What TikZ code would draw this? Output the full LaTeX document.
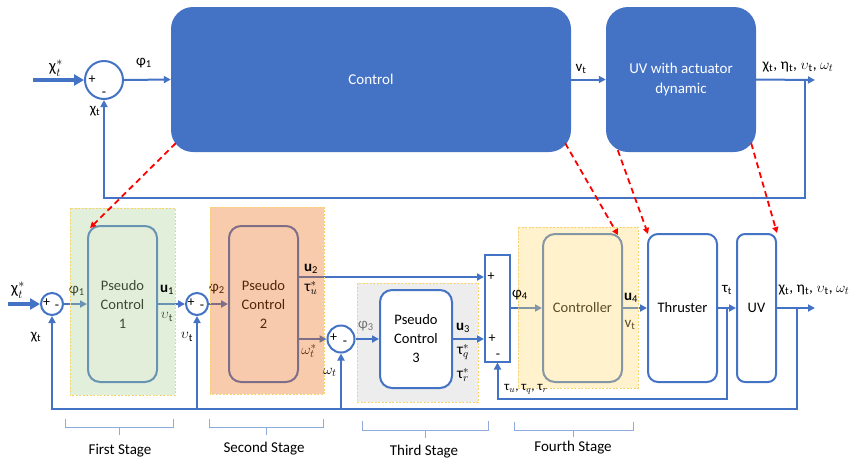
\documentclass[tikz,border=0pt]{standalone}
\usepackage{fontspec}
\setmainfont{Carlito}
\usetikzlibrary{arrows.meta,calc}
\definecolor{uvblue}{HTML}{4472C4}
\definecolor{greenwash}{RGB}{172,209,149}
\definecolor{orangewash}{RGB}{235,106,21}
\definecolor{yellowwash}{RGB}{255,218,109}
\definecolor{stagegray}{HTML}{EDEDED}
\definecolor{stageedge}{HTML}{F5D36E}
\definecolor{bracecol}{HTML}{8FAADC}
\newcommand\sbs[1]{\textsubscript{#1}}
\begin{document}
\begin{tikzpicture}[x=1pt,y=-1pt,
  wire/.style={draw=uvblue, line width=2pt},
  arr/.style={wire, -{Triangle[length=7pt,width=7pt]}},
  bigarr/.style={draw=uvblue, line width=3.6pt, -{Triangle[length=10pt,width=11pt]}},
  topblock/.style={rectangle, rounded corners=22pt, fill=uvblue, text=white,
    font=\fontsize{15}{20}\selectfont, align=center, inner sep=0pt},
  block/.style={rectangle, rounded corners=12pt, draw=uvblue, line width=2pt, fill=white,
    font=\fontsize{14.5}{19}\selectfont, align=center, inner sep=0pt},
  sumnode/.style={circle, draw=uvblue, line width=2pt, fill=white, inner sep=0pt},
  lbl/.style={font=\fontsize{15}{17}\selectfont, inner sep=0pt},
  mlbl/.style={font=\fontsize{15.5}{17}\selectfont, inner sep=0pt},
  sgn/.style={font=\fontsize{14}{15}\selectfont, inner sep=0pt},
  hint/.style={draw=red, line width=1.8pt, dash pattern=on 6pt off 4pt,
    -{Triangle[length=6pt,width=6pt]}},
  edge/.style={draw=stageedge, line width=0.7pt, dash pattern=on 2pt off 1.5pt},
  wash/.style={fill opacity=0.35},
  brace/.style={draw=bracecol, line width=0.8pt},
  stagelbl/.style={font=\fontsize{15}{18}\selectfont, inner sep=0pt}
]
\useasboundingbox (0,0) rectangle (852,459);

% ---------------- outer loop ----------------
\node[sumnode, minimum size=38pt] (s0) at (104,80) {};
\node[topblock, minimum width=400pt, minimum height=145pt] (ctrl) at (371,79.5) {Control};
\node[topblock, minimum width=150pt, minimum height=145pt] (uva) at (681,79.5) {UV with actuator\\dynamic};
\coordinate (tin) at (33,80);
\coordinate (tout) at (815,80);
\coordinate (tob) at (805,80);
\coordinate (tfb) at (805,198);

\draw[bigarr] (tin) -- (s0.west);
\draw[arr] (s0.east) -- (ctrl.west);
\draw[arr] (ctrl.east) -- (uva.west);
\draw[arr] (uva.east) -- (tout);
\draw[arr] (tob) -- (tfb) -- (tfb -| s0.south) -- (s0.south);

\node[sgn] (p0) at (92,80) {+};
\node[sgn] (m0) at (104,94) {-};
\node[mlbl, font=\fontsize{16.5}{18}\selectfont] (lx0) at (56,68) {χ$_t^*$};
\node[lbl] (lc0) at (95,111) {χ\sbs{t}};
\node[lbl] (lf0) at (144,63) {φ\sbs{1}};
\node[lbl] (lv0) at (581,69) {v\sbs{t}};
\node[mlbl] (lo0) at (798,67) {χ\sbs{t}, η\sbs{t}, $\upsilon$\sbs{t}, $\omega_t$};

% ---------------- inner cascade ----------------
\fill[stagegray] (357,283) rectangle (478,402);
\draw[edge] (357,283) rectangle (478,402);

\node[sumnode, minimum size=22pt] (s1) at (52,304) {};
\node[sumnode, minimum size=22pt] (s2) at (197,304) {};
\node[sumnode, minimum size=27pt] (s3) at (341,339) {};
\node[block, minimum width=69pt, minimum height=156pt] (pc1) at (122.5,304) {Pseudo\\Control\\1};
\node[block, minimum width=69pt, minimum height=156pt] (pc2) at (263.5,304) {Pseudo\\Control\\2};
\node[block, minimum width=72pt, minimum height=98pt] (pc3) at (416,339) {Pseudo\\Control\\3};
\node[rectangle, draw=uvblue, line width=2pt, fill=white, minimum width=25pt, minimum height=107pt, inner sep=0pt] (sb) at (497.5,308) {};
\node[block, minimum width=79pt, minimum height=148pt] (ctl) at (582.5,308) {Controller};
\node[block, rounded corners=10pt, minimum width=69pt, minimum height=148pt] (thr) at (682.5,308) {Thruster};
\node[block, rounded corners=8pt, minimum width=39pt, minimum height=148pt] (uv) at (756.5,308) {UV};

\coordinate (bin) at (8,304);
\coordinate (bout) at (815,308);
\coordinate (ob) at (797,308);
\coordinate (fbc) at (797,409);

\draw[bigarr] (bin) -- (s1.west);
\draw[arr] (s1.east) -- (pc1.west);
\draw[arr] (pc1.east) -- (s2.west);
\draw[arr] (s2.east) -- (pc2.west);
\draw[arr] ([yshift=27pt]pc2.east) -- ([yshift=27pt]pc2.east -| sb.west);
\draw[arr] ([yshift=-35pt]pc2.east) -- (s3.west);
\draw[arr] (s3.east) -- (pc3.west);
\draw[arr] (pc3.east) -- (pc3.east -| sb.west);
\draw[arr] (sb.east) -- (ctl.west);
\draw[arr] (ctl.east) -- (thr.west);
\draw[arr] (thr.east) -- (uv.west);
\draw[arr] (uv.east) -- (bout);
\draw[arr] ($(thr.east)!0.5!(uv.west)$) -- ++(0,91) -| (sb.south);
\draw[arr] (ob) -- (fbc) -- (fbc -| s1.south) -- (s1.south);
\draw[arr] (fbc -| s2.south) -- (s2.south);
\draw[arr] (fbc -| s3.south) -- (s3.south);

% signs at the summing points
\node[sgn] (p1) at (46.5,303) {+};
\node[sgn] (m1) at (57,307) {-};
\node[sgn] (p2) at (191,303) {+};
\node[sgn] (m2) at (202,307) {-};
\node[sgn] (p3) at (333.5,338) {+};
\node[sgn] (m3) at (345,343) {-};
\node[sgn] (pb1) at (491,277) {+};
\node[sgn] (pb2) at (492,339) {+};
\node[sgn] (mb) at (498,356) {-};

% signal names under the stage shading
\node[lbl] (lf1) at (77,291) {φ\sbs{1}};
\node[mlbl] (lv1) at (167,317) {$\upsilon$\sbs{t}};
\node[lbl] (lf2) at (217,289) {φ\sbs{2}};
\node[mlbl] (lw2) at (309,351) {$\omega_t^*$};
\node[lbl] (lv4) at (630,325) {v\sbs{t}};

% stage shading
\fill[greenwash, wash] (70,208) rectangle (175,395);
\draw[edge] (70,208) rectangle (175,395);
\fill[orangewash, wash] (210,207) rectangle (324,394);
\draw[edge] (210,207) rectangle (324,394);
\fill[yellowwash, wash] (518,227) rectangle (638,388);
\draw[edge] (518,227) rectangle (638,388);

% remaining signal names
\node[mlbl, font=\fontsize{16.5}{18}\selectfont] (lx1) at (18,290) {χ$_t^*$};
\node[lbl] (lc1) at (36,337) {χ\sbs{t}};
\node[lbl] (lu1) at (167,290) {\textbf{u}\sbs{1}};
\node[mlbl] (lv2) at (187,337) {$\upsilon$\sbs{t}};
\node[lbl] (lu2) at (311,269) {\textbf{u}\sbs{2}};
\node[mlbl] (lt2) at (311,288) {τ$^*_u$};
\node[mlbl] (lw3) at (330,372) {$\omega_t$};
\node[lbl, text=black!55] (lf3) at (366,326) {φ\sbs{3}};
\node[lbl] (lu3) at (463,328) {\textbf{u}\sbs{3}};
\node[mlbl] (ltq) at (463,352) {τ$^*_q$};
\node[mlbl] (ltr) at (463,375) {τ$^*_r$};
\node[lbl] (lf4) at (520,295) {φ\sbs{4}};
\node[lbl] (lu4) at (631,298) {\textbf{u}\sbs{4}};
\node[lbl, font=\fontsize{13}{15}\selectfont] (ltf) at (526,389) {τ$_u$, τ$_q$, τ$_r$};
\node[lbl] (ltt) at (727,290) {τ\sbs{t}};
\node[mlbl] (lo1) at (814,290) {χ\sbs{t}, η\sbs{t}, $\upsilon$\sbs{t}, $\omega_t$};

% links from the outer loop to the inner blocks
\draw[hint] ([shift={(5pt,9pt)}]ctrl.south west) -- ([shift={(3pt,-3pt)}]pc1.north west);
\draw[hint] ([shift={(-6pt,9pt)}]ctrl.south east) -- ([shift={(-5pt,-2pt)}]ctl.north east);
\draw[hint] ([shift={(12pt,2pt)}]uva.south west) -- ([shift={(1pt,-1pt)}]thr.north west);
\draw[hint] ([shift={(-5pt,9pt)}]uva.south east) -- (uv.north east);

% stage brackets
\draw[brace] (65,419) -- (65,427) -- (173,427) -- (173,419) (119,427) -- (119,435);
\draw[brace] (209,419) -- (209,427) -- (323,427) -- (323,419) (266,427) -- (266,435);
\draw[brace] (362,421) -- (362,430) -- (488,430) -- (488,421) (425,430) -- (425,438);
\draw[brace] (514,422) -- (514,430) -- (633,430) -- (633,422) (573,430) -- (573,437);
\node[stagelbl] (st1) at (120,451) {First Stage};
\node[stagelbl] (st2) at (264,449) {Second Stage};
\node[stagelbl] (st3) at (424,452) {Third Stage};
\node[stagelbl] (st4) at (573,448) {Fourth Stage};
\end{tikzpicture}
\end{document}
